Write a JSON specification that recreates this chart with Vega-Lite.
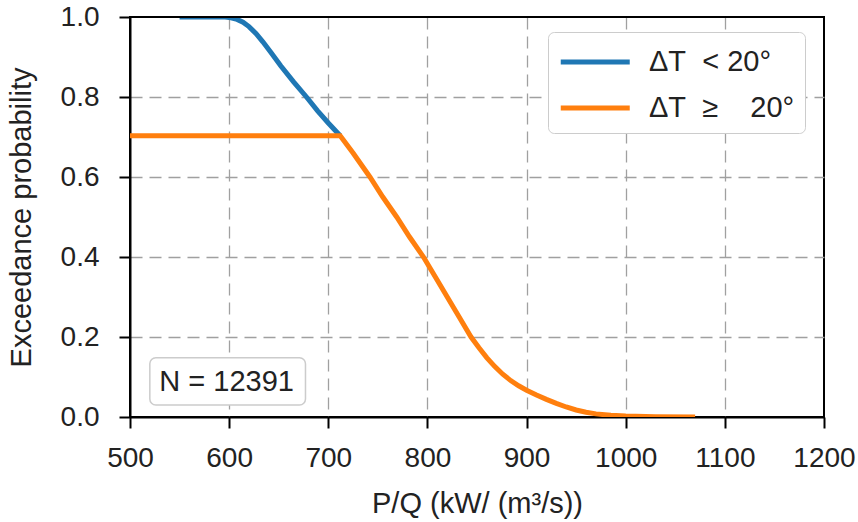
{
  "$schema": "https://vega.github.io/schema/vega-lite/v6.json",
  "width": 694,
  "height": 400,
  "autosize": {"type": "none"},
  "padding": {"left": 130, "top": 17, "right": 34, "bottom": 105},
  "background": "white",
  "config": {
    "font": "Liberation Sans",
    "view": {"stroke": "black", "strokeWidth": 2},
    "axis": {
      "grid": true, "gridColor": "#a0a0a0", "gridDash": [12, 7], "gridWidth": 1.3,
      "gridOpacity": {"condition": {"test": "datum.value == 0 || datum.value == 1 || datum.value == 500 || datum.value == 1200", "value": 0}, "value": 1},
      "domainColor": "black", "domainWidth": 2, "tickColor": "black", "tickWidth": 2, "tickSize": 11,
      "labelFlush": false, "zindex": 1,
      "labelColor": "#222", "labelFontSize": 28, "titleFontSize": 29, "titleFontWeight": "normal", "titleColor": "#222"
    }
  },
  "data": {"values": [
    {"s": "ΔT\u00a0\u00a0<\u00a020°", "x": 550, "p": 1.0},
    {"s": "ΔT\u00a0\u00a0<\u00a020°", "x": 596, "p": 1.0},
    {"s": "ΔT\u00a0\u00a0<\u00a020°", "x": 602, "p": 0.998},
    {"s": "ΔT\u00a0\u00a0<\u00a020°", "x": 608, "p": 0.994},
    {"s": "ΔT\u00a0\u00a0<\u00a020°", "x": 614, "p": 0.987},
    {"s": "ΔT\u00a0\u00a0<\u00a020°", "x": 620, "p": 0.976},
    {"s": "ΔT\u00a0\u00a0<\u00a020°", "x": 627, "p": 0.959},
    {"s": "ΔT\u00a0\u00a0<\u00a020°", "x": 634, "p": 0.938},
    {"s": "ΔT\u00a0\u00a0<\u00a020°", "x": 642, "p": 0.912},
    {"s": "ΔT\u00a0\u00a0<\u00a020°", "x": 652, "p": 0.878},
    {"s": "ΔT\u00a0\u00a0<\u00a020°", "x": 665, "p": 0.838},
    {"s": "ΔT\u00a0\u00a0<\u00a020°", "x": 678, "p": 0.80},
    {"s": "ΔT\u00a0\u00a0<\u00a020°", "x": 689, "p": 0.766},
    {"s": "ΔT\u00a0\u00a0<\u00a020°", "x": 700, "p": 0.735},
    {"s": "ΔT\u00a0\u00a0<\u00a020°", "x": 712, "p": 0.703},
    {"s": "ΔT\u00a0\u00a0≥\u00a0\u00a0\u00a0\u00a020°", "x": 500, "p": 0.703},
    {"s": "ΔT\u00a0\u00a0≥\u00a0\u00a0\u00a0\u00a020°", "x": 712, "p": 0.703},
    {"s": "ΔT\u00a0\u00a0≥\u00a0\u00a0\u00a0\u00a020°", "x": 725, "p": 0.66},
    {"s": "ΔT\u00a0\u00a0≥\u00a0\u00a0\u00a0\u00a020°", "x": 742, "p": 0.60},
    {"s": "ΔT\u00a0\u00a0≥\u00a0\u00a0\u00a0\u00a020°", "x": 755, "p": 0.55},
    {"s": "ΔT\u00a0\u00a0≥\u00a0\u00a0\u00a0\u00a020°", "x": 769, "p": 0.50},
    {"s": "ΔT\u00a0\u00a0≥\u00a0\u00a0\u00a0\u00a020°", "x": 782, "p": 0.45},
    {"s": "ΔT\u00a0\u00a0≥\u00a0\u00a0\u00a0\u00a020°", "x": 796, "p": 0.40},
    {"s": "ΔT\u00a0\u00a0≥\u00a0\u00a0\u00a0\u00a020°", "x": 808, "p": 0.35},
    {"s": "ΔT\u00a0\u00a0≥\u00a0\u00a0\u00a0\u00a020°", "x": 820, "p": 0.30},
    {"s": "ΔT\u00a0\u00a0≥\u00a0\u00a0\u00a0\u00a020°", "x": 832, "p": 0.25},
    {"s": "ΔT\u00a0\u00a0≥\u00a0\u00a0\u00a0\u00a020°", "x": 844, "p": 0.20},
    {"s": "ΔT\u00a0\u00a0≥\u00a0\u00a0\u00a0\u00a020°", "x": 852, "p": 0.173},
    {"s": "ΔT\u00a0\u00a0≥\u00a0\u00a0\u00a0\u00a020°", "x": 860, "p": 0.148},
    {"s": "ΔT\u00a0\u00a0≥\u00a0\u00a0\u00a0\u00a020°", "x": 868, "p": 0.126},
    {"s": "ΔT\u00a0\u00a0≥\u00a0\u00a0\u00a0\u00a020°", "x": 876, "p": 0.107},
    {"s": "ΔT\u00a0\u00a0≥\u00a0\u00a0\u00a0\u00a020°", "x": 884, "p": 0.091},
    {"s": "ΔT\u00a0\u00a0≥\u00a0\u00a0\u00a0\u00a020°", "x": 892, "p": 0.078},
    {"s": "ΔT\u00a0\u00a0≥\u00a0\u00a0\u00a0\u00a020°", "x": 900, "p": 0.067},
    {"s": "ΔT\u00a0\u00a0≥\u00a0\u00a0\u00a0\u00a020°", "x": 910, "p": 0.055},
    {"s": "ΔT\u00a0\u00a0≥\u00a0\u00a0\u00a0\u00a020°", "x": 920, "p": 0.044},
    {"s": "ΔT\u00a0\u00a0≥\u00a0\u00a0\u00a0\u00a020°", "x": 930, "p": 0.034},
    {"s": "ΔT\u00a0\u00a0≥\u00a0\u00a0\u00a0\u00a020°", "x": 940, "p": 0.025},
    {"s": "ΔT\u00a0\u00a0≥\u00a0\u00a0\u00a0\u00a020°", "x": 950, "p": 0.0175},
    {"s": "ΔT\u00a0\u00a0≥\u00a0\u00a0\u00a0\u00a020°", "x": 960, "p": 0.012},
    {"s": "ΔT\u00a0\u00a0≥\u00a0\u00a0\u00a0\u00a020°", "x": 970, "p": 0.0078},
    {"s": "ΔT\u00a0\u00a0≥\u00a0\u00a0\u00a0\u00a020°", "x": 985, "p": 0.0042},
    {"s": "ΔT\u00a0\u00a0≥\u00a0\u00a0\u00a0\u00a020°", "x": 1000, "p": 0.0022},
    {"s": "ΔT\u00a0\u00a0≥\u00a0\u00a0\u00a0\u00a020°", "x": 1030, "p": 0.0007},
    {"s": "ΔT\u00a0\u00a0≥\u00a0\u00a0\u00a0\u00a020°", "x": 1070, "p": 0.0}
  ]},
  "layer": [
    {
      "mark": {"type": "line", "strokeWidth": 5, "clip": true},
      "encoding": {
        "x": {"field": "x", "type": "quantitative", "scale": {"domain": [500, 1200], "nice": false},
              "axis": {"values": [500, 600, 700, 800, 900, 1000, 1100, 1200], "format": "d", "title": "P/Q (kW/ (m³/s))", "labelPadding": 16, "titlePadding": 17}},
        "y": {"field": "p", "type": "quantitative", "scale": {"domain": [0, 1], "nice": false},
              "axis": {"values": [0, 0.2, 0.4, 0.6, 0.8, 1.0], "format": ".1f", "title": "Exceedance probability", "labelPadding": 20, "titlePadding": 24}},
        "color": {"field": "s", "type": "nominal",
                  "scale": {"domain": ["ΔT\u00a0\u00a0<\u00a020°", "ΔT\u00a0\u00a0≥\u00a0\u00a0\u00a0\u00a020°"], "range": ["#1f77b4", "#ff7f0e"]},
                  "legend": {"title": null, "orient": "none", "legendX": 418, "legendY": 15,
                             "symbolType": "M-1,0H3", "symbolSize": 1190, "symbolStrokeWidth": 5,
                             "labelFontSize": 29, "labelColor": "#222", "fillColor": "white", "strokeColor": "#cccccc",
                             "cornerRadius": 6, "padding": 10, "labelOffset": 51, "rowPadding": 11}}
      }
    },
    {
      "data": {"values": [{}]},
      "mark": {"type": "rule", "color": "black", "strokeWidth": 2},
      "encoding": {"y": {"datum": 1}}
    },
    {
      "data": {"values": [{}]},
      "mark": {"type": "rect", "fill": "white", "stroke": "#cccccc", "strokeWidth": 1.5, "cornerRadius": 6},
      "encoding": {
        "x": {"datum": 520}, "x2": {"datum": 677},
        "y": {"datum": 0.03}, "y2": {"datum": 0.148}
      }
    },
    {
      "data": {"values": [{}]},
      "mark": {"type": "text", "fontSize": 29, "color": "#222", "align": "center", "baseline": "middle"},
      "encoding": {
        "x": {"datum": 597.5}, "y": {"datum": 0.088},
        "text": {"value": "N = 12391"}
      }
    }
  ]
}
